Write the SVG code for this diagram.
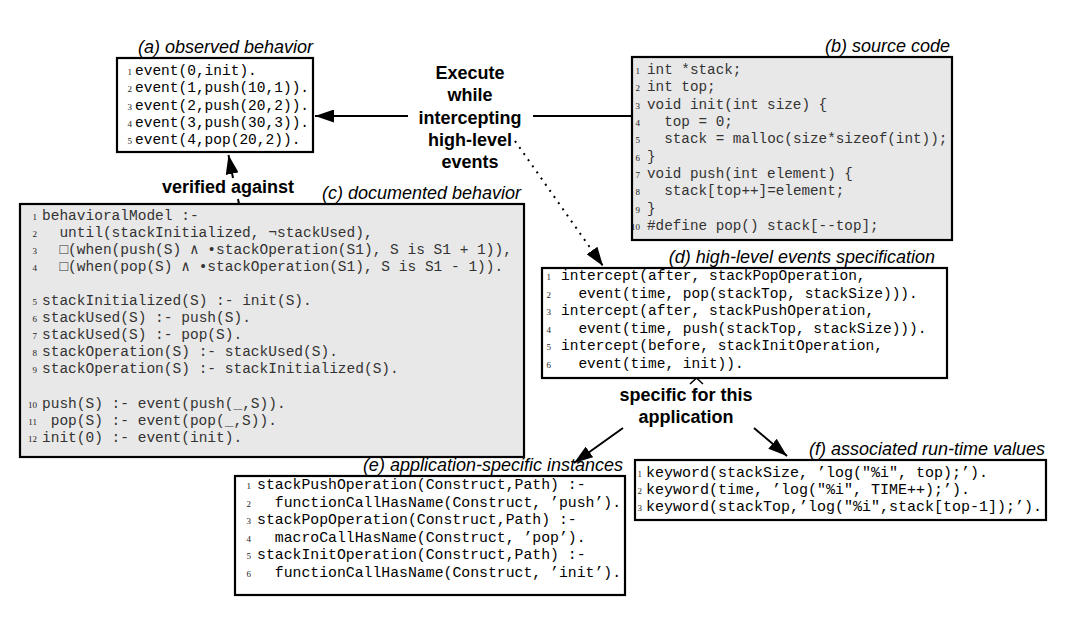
<svg xmlns="http://www.w3.org/2000/svg" width="1086" height="618" viewBox="0 0 1086 618">
<style>
.box{stroke:#000;stroke-width:2.2;fill:#fff}
.gbox{stroke:#000;stroke-width:2.2;fill:#e8e8e8}
.title{font-family:"Liberation Sans",Arial,sans-serif;font-style:italic;font-size:18px;text-anchor:end;fill:#000}
.code{font-family:"Liberation Mono","DejaVu Sans Mono",monospace;font-size:14.5px;fill:#000}
.gc{fill:#333}
.ln{font-family:"Liberation Serif","Times New Roman",serif;font-size:9px;text-anchor:end;fill:#222}
.lbl{font-family:"Liberation Sans",Arial,sans-serif;font-weight:bold;font-size:18px;text-anchor:middle;fill:#000}
.conn{stroke:#000;stroke-width:2;fill:none}
.dot{stroke:#000;stroke-width:2;fill:none;stroke-dasharray:2 5.5}
</style>
<defs>
<marker id="ah" viewBox="0 0 19 13" refX="19" refY="6.5" markerWidth="19" markerHeight="13" markerUnits="userSpaceOnUse" orient="auto">
<path d="M0,0 L19,6.5 L0,13 z" fill="#000"/>
</marker>
</defs>
<rect width="1086" height="618" fill="#fff"/>

<g id="node-a">
<rect class="box" x="117" y="58" width="196" height="94"/>
<text class="title" x="313" y="53">(a) observed behavior</text>
<g class="ln"><text x="132" y="75">1</text><text x="132" y="92">2</text><text x="132" y="109.5">3</text><text x="132" y="127">4</text><text x="132" y="144">5</text></g>
<g class="code"><text x="135" y="75">event(0,init).</text><text x="135" y="92">event(1,push(10,1)).</text><text x="135" y="109.5">event(2,push(20,2)).</text><text x="135" y="127">event(3,push(30,3)).</text><text x="135" y="144">event(4,pop(20,2)).</text></g>
</g>

<g id="node-b">
<rect class="gbox" x="632" y="57" width="320" height="183"/>
<text class="title" x="950" y="52">(b) source code</text>
<g class="ln"><text x="640" y="74">1</text><text x="640" y="91.3">2</text><text x="640" y="108.7">3</text><text x="640" y="126">4</text><text x="640" y="143.4">5</text><text x="640" y="160.7">6</text><text x="640" y="178.1">7</text><text x="640" y="195.4">8</text><text x="640" y="212.8">9</text><text x="640" y="230.1">10</text></g>
<g class="code gc" style="font-size:14.3px"><text x="647" y="74">int *stack;</text><text x="647" y="91.3">int top;</text><text x="647" y="108.7">void init(int size) {</text><text x="664.2" y="126">top = 0;</text><text x="664.2" y="143.4">stack = malloc(size*sizeof(int));</text><text x="647" y="160.7">}</text><text x="647" y="178.1">void push(int element) {</text><text x="664.2" y="195.4">stack[top++]=element;</text><text x="647" y="212.8">}</text><text x="647" y="230.1">#define pop() stack[--top];</text></g>
</g>

<g id="node-c">
<rect class="gbox" x="20" y="204" width="504" height="253"/>
<text class="title" x="521" y="199">(c) documented behavior</text>
<g class="ln"><text x="37" y="219.5">1</text><text x="37" y="236.6">2</text><text x="37" y="253.7">3</text><text x="37" y="270.8">4</text><text x="37" y="305">5</text><text x="37" y="322.1">6</text><text x="37" y="339.2">7</text><text x="37" y="356.3">8</text><text x="37" y="373.4">9</text><text x="37" y="407.6">10</text><text x="37" y="424.7">11</text><text x="37" y="441.8">12</text></g>
<g class="code gc"><text x="42" y="219.5">behavioralModel :-</text><text x="59.4" y="236.6">until(stackInitialized, ¬stackUsed),</text><text x="59.4" y="253.7">□(when(push(S) ∧ •stackOperation(S1), S is S1 + 1)),</text><text x="59.4" y="270.8">□(when(pop(S) ∧ •stackOperation(S1), S is S1 - 1)).</text><text x="42" y="305">stackInitialized(S) :- init(S).</text><text x="42" y="322.1">stackUsed(S) :- push(S).</text><text x="42" y="339.2">stackUsed(S) :- pop(S).</text><text x="42" y="356.3">stackOperation(S) :- stackUsed(S).</text><text x="42" y="373.4">stackOperation(S) :- stackInitialized(S).</text><text x="42" y="407.6">push(S) :- event(push(_,S)).</text><text x="50.7" y="424.7">pop(S) :- event(pop(_,S)).</text><text x="42" y="441.8">init(0) :- event(init).</text></g>
</g>

<g id="node-d">
<rect class="box" x="542" y="268" width="405" height="110"/>
<text class="title" x="935" y="263">(d) high-level events specification</text>
<g class="ln"><text x="551" y="280">1</text><text x="551" y="297.5">2</text><text x="551" y="315">3</text><text x="551" y="332.5">4</text><text x="551" y="350">5</text><text x="551" y="367.5">6</text></g>
<g class="code"><text x="561" y="280">intercept(after, stackPopOperation,</text><text x="578.4" y="297.5">event(time, pop(stackTop, stackSize))).</text><text x="561" y="315">intercept(after, stackPushOperation,</text><text x="578.4" y="332.5">event(time, push(stackTop, stackSize))).</text><text x="561" y="350">intercept(before, stackInitOperation,</text><text x="578.4" y="367.5">event(time, init)).</text></g>
</g>

<g id="node-e">
<rect class="box" x="235" y="476" width="390" height="119"/>
<text class="title" x="623" y="471">(e) application-specific instances</text>
<g class="ln"><text x="251" y="489">1</text><text x="251" y="506.6">2</text><text x="251" y="524.2">3</text><text x="251" y="541.8">4</text><text x="251" y="559.4">5</text><text x="251" y="577">6</text></g>
<g class="code" style="font-size:14.8px"><text x="257" y="489">stackPushOperation(Construct,Path) :-</text><text x="274.8" y="506.6">functionCallHasName(Construct, ’push’).</text><text x="257" y="524.2">stackPopOperation(Construct,Path) :-</text><text x="274.8" y="541.8">macroCallHasName(Construct, ’pop’).</text><text x="257" y="559.4">stackInitOperation(Construct,Path) :-</text><text x="274.8" y="577">functionCallHasName(Construct, ’init’).</text></g>
</g>

<g id="node-f">
<rect class="box" x="635" y="460" width="411" height="60"/>
<text class="title" x="1045" y="455">(f) associated run-time values</text>
<g class="ln"><text x="642" y="477">1</text><text x="642" y="494">2</text><text x="642" y="511">3</text></g>
<g class="code" style="font-size:15px"><text x="646" y="477">keyword(stackSize, ’log("%i", top);’).</text><text x="646" y="494">keyword(time, ’log("%i", TIME++);’).</text><text x="646" y="511">keyword(stackTop,’log("%i",stack[top-1]);’).</text></g>
</g>

<g id="labels">
<text class="lbl" x="470" y="79">Execute</text>
<text class="lbl" x="470" y="101">while</text>
<text class="lbl" x="470" y="123.5">intercepting</text>
<text class="lbl" x="470" y="146">high-level</text>
<text class="lbl" x="470" y="168">events</text>
<text class="lbl" x="228" y="193">verified against</text>
<text class="lbl" x="686" y="401">specific for this</text>
<text class="lbl" x="686" y="423">application</text>
</g>

<g id="connectors">
<path class="conn" d="M632,116 H533 M408,116 H315" marker-end="url(#ah)"/>
<path class="conn" d="M239,204 L238,199 M233,178 L228.5,155" marker-end="url(#ah)"/>
<path class="dot" d="M515,141 L603,266" marker-end="url(#ah)"/>
<polyline class="conn" style="stroke-width:1.5" points="690,384 696.5,378 703,384"/>
<path class="conn" d="M623,428 L574,463" marker-end="url(#ah)"/>
<path class="conn" d="M754,428 L787,456" marker-end="url(#ah)"/>
</g>
</svg>
